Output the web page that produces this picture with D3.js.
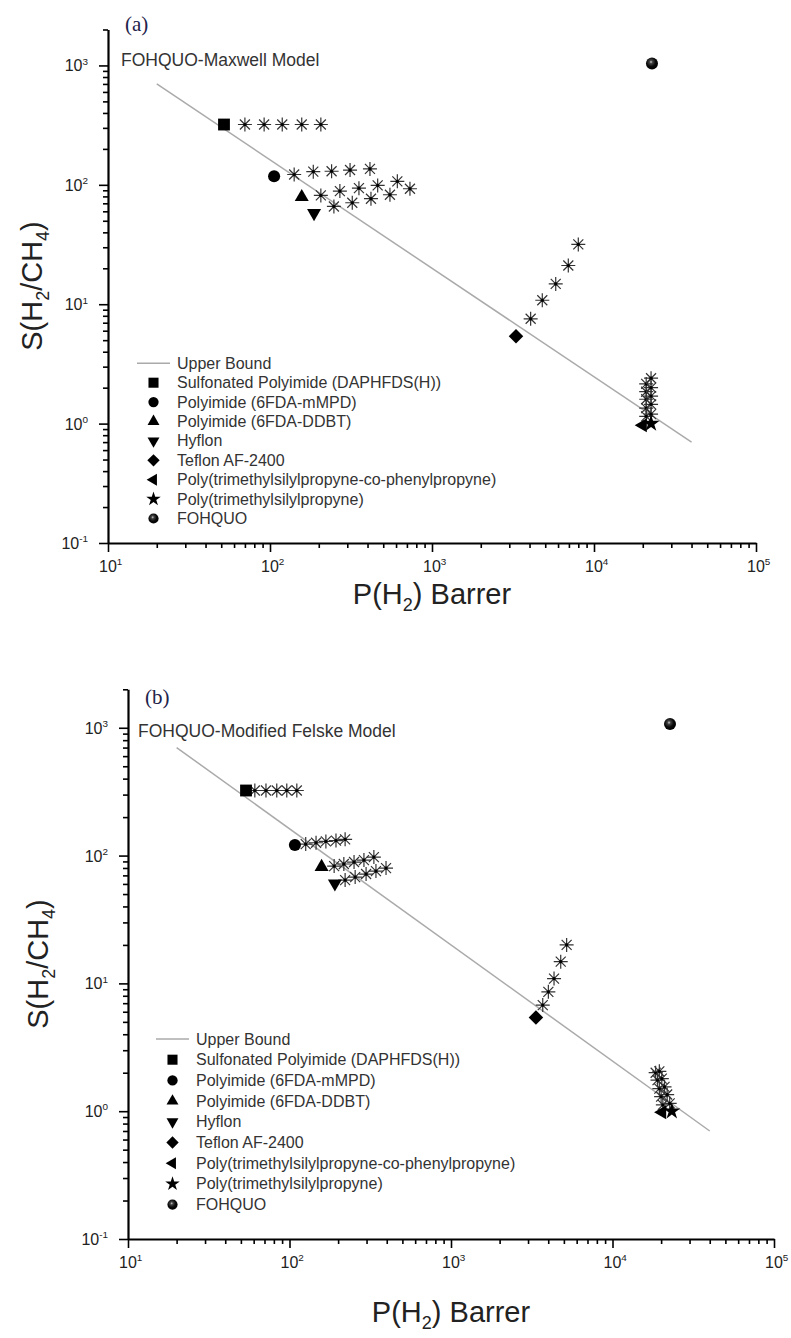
<!DOCTYPE html>
<html><head><meta charset="utf-8">
<script src="https://cdn.jsdelivr.net/npm/d3@7"></script>
<style>body{margin:0;background:#fff}</style>
</head><body><svg id="c" width="791" height="1338"></svg>
<script>
// ---------- DATA ----------
const seriesNames = ["Sulfonated Polyimide (DAPHFDS(H))","Polyimide (6FDA-mMPD)","Polyimide (6FDA-DDBT)","Hyflon","Teflon AF-2400","Poly(trimethylsilylpropyne-co-phenylpropyne)","Poly(trimethylsilylpropyne)","FOHQUO"];
const seriesSymbols = ["square","circle","triangle","triangleDown","diamond","triangleLeft","star","sphere"];
const upperBoundLabel = "Upper Bound";
const ubP = [20, 40000];
const ubS = [700, 0.7];
const xTickExp = [1,2,3,4,5];
const yTickExp = [-1,0,1,2,3];

// Panel (a) – Maxwell model
const polyP_a = [52, 106, 157, 187, 3300, 20000, 22500];
const polyS_a = [320, 118, 79, 58, 5.4, 0.97, 1.0];
const fohquoP_a = [22800];
const fohquoS_a = [1040];
const mixP_a = [
  [70, 92, 119, 157, 206],
  [141, 185, 240, 312, 414],
  [206, 270, 354, 462, 611],
  [248, 322, 420, 550, 731],
  [4064, 4795, 5804, 6940, 8000],
  [21000, 21000, 21000, 21000, 21000],
  [22500, 22500, 22500, 22500, 22500]
];
const mixS_a = [
  [320, 320, 320, 320, 320],
  [122, 129, 130, 133, 136],
  [81.5, 88.6, 93.8, 98.9, 107],
  [65.9, 70.8, 76.5, 82.6, 92.7],
  [7.55, 10.8, 14.8, 21.1, 31.7],
  [1.15, 1.35, 1.6, 1.85, 2.15],
  [1.2, 1.45, 1.7, 2.0, 2.4]
];

// Panel (b) – Modified Felske model
const polyP_b = [53.8, 108, 158, 191, 3357, 20300, 23300];
const polyS_b = [323, 121, 81.6, 60.5, 5.42, 0.98, 1.0];
const fohquoP_b = [22700];
const fohquoS_b = [1070];
const mixP_b = [
  [61, 71.5, 83.4, 96.2, 111],
  [126, 146, 168, 194, 221],
  [189, 217, 251, 289, 333],
  [221, 255, 298, 343, 396],
  [3699, 4007, 4345, 4780, 5200],
  [18500, 19000, 19500, 20000, 20500],
  [19500, 20200, 21000, 21800, 22600]
];
const mixS_b = [
  [323, 323, 323, 323, 323],
  [123, 126, 129, 131, 134],
  [82.8, 85.9, 89, 92.2, 97.3],
  [64.3, 67.9, 71.7, 75.6, 79.8],
  [6.76, 8.59, 10.9, 14.8, 20.0],
  [2.0, 1.75, 1.5, 1.3, 1.12],
  [2.05, 1.8, 1.55, 1.35, 1.15]
];

// ---------- LAYOUT ----------
const panels = [
  {letter:"(a)", model:"FOHQUO-Maxwell Model", polyP:polyP_a, polyS:polyS_a, fP:fohquoP_a, fS:fohquoS_a, mixP:mixP_a, mixS:mixS_a,
   xr:[108,756], yr:[543,29.5], letterPos:[125,31], modelPos:[121,66],
   legX:137, legY:363.3, legDy:19.4, ytPos:[42,286], xtPos:[432,604]},
  {letter:"(b)", model:"FOHQUO-Modified Felske Model", polyP:polyP_b, polyS:polyS_b, fP:fohquoP_b, fS:fohquoS_b, mixP:mixP_b, mixS:mixS_b,
   xr:[128,774], yr:[1239,689.3], letterPos:[145,704], modelPos:[138,737],
   legX:156, legY:1039, legDy:20.7, ytPos:[48,964], xtPos:[451,1322]}
];

const FONT = "'Liberation Sans', Arial, sans-serif";
const svg = d3.select('#c');
svg.append('rect').attr('width',791).attr('height',1338).attr('fill','#fff');
const defs = svg.append('defs');
const grad = defs.append('radialGradient').attr('id','sph').attr('cx','42%').attr('cy','38%').attr('r','62%');
grad.append('stop').attr('offset','0%').attr('stop-color','#ccc');
grad.append('stop').attr('offset','22%').attr('stop-color','#444');
grad.append('stop').attr('offset','60%').attr('stop-color','#0a0a0a');
grad.append('stop').attr('offset','100%').attr('stop-color','#000');

const asteriskPath = "M0,-7L0,7M-7,0L7,0M-5,-5L5,5M-5,5L5,-5";

function marker(g, type, cx, cy, scale){
  scale = scale || 1;
  if (type === 'sphere') {
    return g.append('circle').attr('cx',cx).attr('cy',cy).attr('r',6*scale).attr('fill','url(#sph)');
  }
  const map = {square:[d3.symbolSquare,140,0], circle:[d3.symbolCircle,115,0], triangle:[d3.symbolTriangle,85,0],
    triangleDown:[d3.symbolTriangle,85,180], diamond:[d3.symbolSquare,105,45], triangleLeft:[d3.symbolTriangle,85,-90],
    star:[d3.symbolStar,90,0]};
  const m = map[type];
  return g.append('path').attr('d', d3.symbol().type(m[0]).size(m[1]*scale*scale)())
    .attr('transform',`translate(${cx},${cy}) rotate(${m[2]})`).attr('fill','#000');
}

function powLabel(sel, exp, size){
  sel.append('tspan').text('10');
  sel.append('tspan').attr('font-size', size*0.62).attr('dy', -size*0.42).text(String(exp));
}

panels.forEach(p => {
  const x = d3.scaleLog().domain([10,1e5]).range(p.xr);
  const y = d3.scaleLog().domain([0.1,2000]).range(p.yr);
  const g = svg.append('g');

  const xMinor = [], yMinor = [];
  for (let e=1;e<5;e++) for (let k=2;k<10;k++) xMinor.push(k*Math.pow(10,e));
  for (let e=-1;e<4;e++) for (let k=2;k<10;k++){ const v=k*Math.pow(10,e); if (v<=2000) yMinor.push(v); }

  const xAxisY = p.yr[0], yAxisX = p.xr[0];
  const gx = g.append('g').attr('transform',`translate(0,${xAxisY})`);
  gx.call(d3.axisBottom(x).tickValues(xMinor).tickSize(5).tickSizeOuter(0).tickFormat(''));
  gx.call(g2=>g2.selectAll('.domain').remove());
  g.append('g').attr('transform',`translate(0,${xAxisY})`)
    .call(d3.axisBottom(x).tickValues(xTickExp.map(e=>Math.pow(10,e))).tickSize(9).tickSizeOuter(0).tickFormat(''));
  const gy = g.append('g').attr('transform',`translate(${yAxisX},0)`);
  gy.call(d3.axisLeft(y).tickValues(yMinor).tickSize(5).tickSizeOuter(0).tickFormat(''));
  gy.call(g2=>g2.selectAll('.domain').remove());
  g.append('g').attr('transform',`translate(${yAxisX},0)`)
    .call(d3.axisLeft(y).tickValues(yTickExp.map(e=>Math.pow(10,e))).tickSize(9).tickSizeOuter(0).tickFormat(''));
  g.selectAll('.tick line').attr('stroke','#000').attr('stroke-width',1.6);
  g.selectAll('.domain').attr('stroke','#000').attr('stroke-width',2.2);

  xTickExp.forEach(e => {
    const t = g.append('text').attr('x', x(Math.pow(10,e)) - 9).attr('y', xAxisY + 29)
      .attr('font-family',FONT).attr('font-size',16).attr('fill','#222');
    powLabel(t, e, 16);
  });
  yTickExp.forEach(e => {
    const t = g.append('text').attr('x', yAxisX - 20).attr('y', y(Math.pow(10,e)) + 6)
      .attr('text-anchor','end').attr('font-family',FONT).attr('font-size',16).attr('fill','#222');
    powLabel(t, e, 16);
  });

  const yt = g.append('text').attr('transform',`translate(${p.ytPos[0]},${p.ytPos[1]}) rotate(-90)`)
    .attr('text-anchor','middle').attr('font-family',FONT).attr('font-size',29).attr('fill','#222');
  yt.append('tspan').text('S(H');
  yt.append('tspan').attr('font-size',18).attr('dy',7).text('2');
  yt.append('tspan').attr('dy',-7).text('/CH');
  yt.append('tspan').attr('font-size',18).attr('dy',7).text('4');
  yt.append('tspan').attr('dy',-7).text(')');
  const xt = g.append('text').attr('x',p.xtPos[0]).attr('y',p.xtPos[1])
    .attr('text-anchor','middle').attr('font-family',FONT).attr('font-size',29).attr('fill','#222');
  xt.append('tspan').text('P(H');
  xt.append('tspan').attr('font-size',18).attr('dy',7).text('2');
  xt.append('tspan').attr('dy',-7).text(') Barrer');

  g.append('text').attr('x',p.letterPos[0]).attr('y',p.letterPos[1]).attr('font-family',"'Liberation Serif', 'Times New Roman', serif")
    .attr('font-size',21).attr('fill','#22224a').text(p.letter);
  g.append('text').attr('x',p.modelPos[0]).attr('y',p.modelPos[1]).attr('font-family',FONT)
    .attr('font-size',17.5).attr('fill','#333').text(p.model);

  g.append('path').datum(d3.zip(ubP,ubS)).attr('d', d3.line().x(d=>x(d[0])).y(d=>y(d[1])))
    .attr('fill','none').attr('stroke','#aaa').attr('stroke-width',1.5);

  p.mixP.forEach((row,i) => row.forEach((v,j) => {
    const cx = x(v), cy = y(p.mixS[i][j]);
    g.append('path').attr('d',asteriskPath).attr('transform',`translate(${cx},${cy})`)
      .attr('stroke','#333').attr('stroke-width',1.2).attr('fill','none');
    g.append('circle').attr('cx',cx).attr('cy',cy).attr('r',1.6).attr('fill','#000');
  }));

  p.polyP.forEach((v,i) => marker(g, seriesSymbols[i], x(v), y(p.polyS[i])));
  p.fP.forEach((v,i) => marker(g, 'sphere', x(v), y(p.fS[i])));

  const lg = g.append('g');
  lg.append('line').attr('x1',p.legX).attr('x2',p.legX+33).attr('y1',p.legY).attr('y2',p.legY)
    .attr('stroke','#aaa').attr('stroke-width',1.5);
  lg.append('text').attr('x',p.legX+40).attr('y',p.legY).attr('dominant-baseline','central')
    .attr('font-family',FONT).attr('font-size',16).attr('fill','#333').text(upperBoundLabel);
  seriesNames.forEach((n,i) => {
    const yy = p.legY + (i+1)*p.legDy;
    marker(lg, seriesSymbols[i], p.legX+16.5, yy, 0.85);
    lg.append('text').attr('x',p.legX+40).attr('y',yy).attr('dominant-baseline','central')
      .attr('font-family',FONT).attr('font-size',16).attr('fill','#333').text(n);
  });
});
</script></body></html>
